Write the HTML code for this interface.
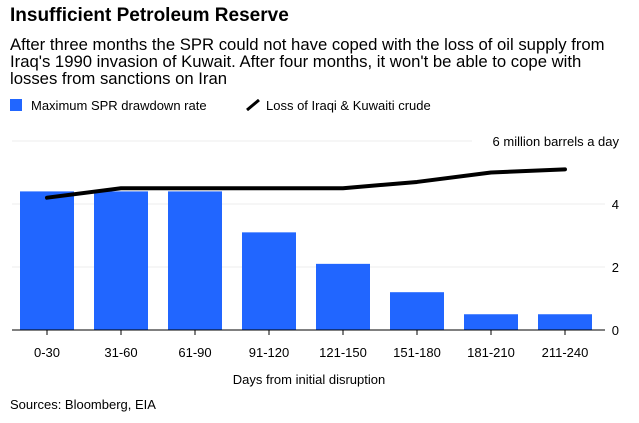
<!DOCTYPE html>
<html><head><meta charset="utf-8"><style>
body{margin:0;background:#fff;font-family:"Liberation Sans",sans-serif;color:#000}
#wrap{position:relative;width:639px;height:423px;overflow:hidden}
.t{position:absolute;white-space:nowrap}
</style></head><body>
<div id="wrap">
<div class="t" style="left:10px;top:5px;font-size:19px;font-weight:bold">Insufficient Petroleum Reserve</div>
<div class="t" style="left:10px;top:36px;font-size:16.7px;line-height:17px;white-space:normal;width:610px">After three months the SPR could not have coped with the loss of oil supply from Iraq's 1990 invasion of Kuwait. After four months, it won't be able to cope with losses from sanctions on Iran</div>
<div class="t" style="left:10px;top:98px;font-size:13px"><span style="display:inline-block;width:12px;height:12px;background:#2166ff;vertical-align:-1px;margin-right:9px"></span>Maximum SPR drawdown rate</div>
<div class="t" style="left:246px;top:98px;font-size:13px"><svg width="14" height="12" style="vertical-align:-1px;margin-right:6px"><line x1="1" y1="11" x2="13" y2="1" stroke="#000" stroke-width="3"/></svg>Loss of Iraqi &amp; Kuwaiti crude</div>
<svg id="plot" width="639" height="423" style="position:absolute;left:0;top:0"></svg>
<div class="t" style="left:0;width:618px;text-align:center;top:372px;font-size:13px">Days from initial disruption</div>
<div class="t" style="left:10px;top:397px;font-size:13px">Sources: Bloomberg, EIA</div>
</div>
<script>
const categories=["0-30","31-60","61-90","91-120","121-150","151-180","181-210","211-240"];
const sprValues=[4.4,4.4,4.4,3.1,2.1,1.2,0.5,0.5];
const lossValues=[4.2,4.5,4.5,4.5,4.5,4.7,5.0,5.1];
const yTicks=[0,2,4,6];
const NS="http://www.w3.org/2000/svg";
const svg=document.getElementById('plot');
const x0=10,step=74,bw=54;
const xc=i=>x0+step*i+step/2;
const y=v=>330-v*31.5;
function mk(t,a){const e=document.createElementNS(NS,t);for(const k in a)e.setAttribute(k,a[k]);svg.appendChild(e);return e;}
yTicks.forEach(v=>{
  if(v>0){const g=mk('line',{x1:12,x2:v===6?472:605,y1:y(v),y2:y(v),stroke:'#ececec','stroke-width':1});
  
  }
  const lab=v===6?'6 million barrels a day':String(v);
  const t=mk('text',{x:619,y:y(v)+5,'text-anchor':'end','font-size':13,'font-family':'Liberation Sans, sans-serif'});
  t.textContent=lab;
  
  
});
sprValues.forEach((v,i)=>{
  const r=mk('rect',{x:xc(i)-bw/2,y:y(v),width:bw,height:y(0)-y(v),fill:'#2166ff'});
  
  
});
const base=mk('line',{x1:12,x2:605,y1:330,y2:330,stroke:'#000','stroke-width':1});


categories.forEach((c,i)=>{
  const tk=mk('line',{x1:xc(i),x2:xc(i),y1:330,y2:335,stroke:'#000'});
  
  
  const t=mk('text',{x:xc(i),y:357,'text-anchor':'middle','font-size':13,'font-family':'Liberation Sans, sans-serif'});
  t.textContent=c;
  
  
});
const pts=lossValues.map((v,i)=>xc(i)+','+y(v)).join(' ');
const pl=mk('polyline',{points:pts,fill:'none',stroke:'#000','stroke-width':4,'stroke-linecap':'round','stroke-linejoin':'round'});


</script>
</body></html>
